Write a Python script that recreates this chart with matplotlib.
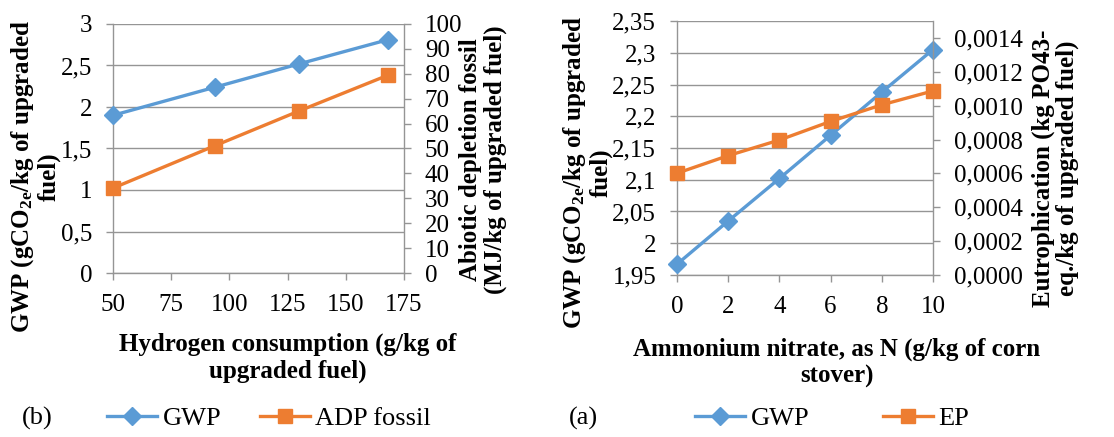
import matplotlib
matplotlib.use("Agg")
import matplotlib.pyplot as plt
from matplotlib.ticker import FuncFormatter, MultipleLocator

plt.rcParams['font.family'] = ['Liberation Serif', 'DejaVu Serif']
plt.rcParams['mathtext.fontset'] = 'custom'
plt.rcParams['mathtext.rm'] = 'Liberation Serif'
plt.rcParams['mathtext.bf'] = 'Liberation Serif:bold'
plt.rcParams['mathtext.it'] = 'Liberation Serif:italic:bold'

# ---- data: chart (b) ----
h2_consumption = [50, 94, 130, 168]
gwp_b = [1.90, 2.24, 2.52, 2.81]
adp_fossil = [34.1, 51.2, 65.1, 79.4]

# ---- data: chart (a) ----
ammonium_n = [0, 2, 4, 6, 8, 10]
gwp_a = [1.967, 2.035, 2.102, 2.170, 2.238, 2.305]
ep_a = [0.000601, 0.000705, 0.000797, 0.000907, 0.001005, 0.001087]

BLUE = '#5B9BD5'
ORANGE = '#ED7D31'
GRAY = '#959595'
TFS = 18     # tick labels
LFS = 18     # axis labels
GFS = 19     # legend
W, H = 1114, 437

fig = plt.figure(figsize=(W / 100, H / 100), dpi=100)

def comma(fmt):
    return FuncFormatter(lambda v, p: (fmt % v).replace('.', ','))

def style(ax):
    ax.spines['top'].set_visible(False)
    for s in ['left', 'right', 'bottom']:
        ax.spines[s].set_color(GRAY)
        ax.spines[s].set_linewidth(1.0)
    ax.tick_params(colors=GRAY, labelcolor='black', labelsize=TFS, length=5, width=1.0, pad=10)

def axes_px(l, r, t, b):
    return fig.add_axes([l / W, 1 - b / H, (r - l) / W, (b - t) / H])

def legend_item(handle, x_px, y_px):
    fig.legend(handles=[handle], loc='center left', bbox_to_anchor=(x_px / W, 1 - y_px / H),
               frameon=False, fontsize=GFS, handlelength=1.9, handletextpad=0.2,
               borderpad=0, borderaxespad=0)

LW = 2.4

# ---------- chart (b) ----------
ax1 = axes_px(113, 404, 24, 273)
ax1.set_xlim(50, 175)
ax1.set_ylim(0, 3)
ax1.xaxis.set_major_locator(MultipleLocator(25))
ax1.yaxis.set_major_locator(MultipleLocator(0.5))
ax1.yaxis.set_major_formatter(comma('%g'))
ax1.grid(axis='y', color=GRAY, linewidth=1.0)
ax1.set_axisbelow(True)
style(ax1)
ax1.spines['right'].set_visible(False)
l1, = ax1.plot(h2_consumption, gwp_b, color=BLUE, lw=LW, marker='D', ms=9.5,
               label='GWP', clip_on=False, zorder=3)
ax1b = ax1.twinx()
ax1b.set_ylim(0, 100)
ax1b.yaxis.set_major_locator(MultipleLocator(10))
style(ax1b)
ax1b.spines['left'].set_visible(False)
ax1b.spines['bottom'].set_visible(False)
l2, = ax1b.plot(h2_consumption, adp_fossil, color=ORANGE, lw=LW, marker='s', ms=9.5,
                label='ADP fossil', clip_on=False, zorder=3)

fig.text(35 / W, 1 - 177 / H, 'GWP (gCO$_{\\mathbf{2e}}$/kg of upgraded\nfuel)', rotation=90,
         ha='center', va='center', fontsize=LFS, fontweight='bold', linespacing=1.05, ma='center')
fig.text(483 / W, 1 - 160 / H, 'Abiotic depletion fossil\n(MJ/kg of upgraded fuel)', rotation=90,
         ha='center', va='center', fontsize=LFS, fontweight='bold', linespacing=1.05, ma='center')
fig.text(288 / W, 1 - 358 / H, 'Hydrogen consumption (g/kg of\nupgraded fuel)',
         ha='center', va='center', fontsize=LFS, fontweight='bold', linespacing=1.2, ma='center')
fig.text(37 / W, 1 - 418 / H, '(b)', ha='center', va='center', fontsize=GFS)
legend_item(l1, 107, 418)
legend_item(l2, 260, 418)

# ---------- chart (a) ----------
ax2 = axes_px(677, 933, 21, 275)
ax2.set_xlim(0, 10)
ax2.set_ylim(1.95, 2.35)
ax2.xaxis.set_major_locator(MultipleLocator(2))
ax2.yaxis.set_major_locator(MultipleLocator(0.05))
ax2.yaxis.set_major_formatter(comma('%g'))
ax2.grid(axis='y', color=GRAY, linewidth=1.0)
ax2.set_axisbelow(True)
style(ax2)
ax2.spines['right'].set_visible(False)
l3, = ax2.plot(ammonium_n, gwp_a, color=BLUE, lw=LW, marker='D', ms=9.5,
               label='GWP', clip_on=False, zorder=3)
ax2b = ax2.twinx()
ax2b.set_ylim(0, 0.0015)
ax2b.yaxis.set_major_locator(MultipleLocator(0.0002))
ax2b.yaxis.set_major_formatter(comma('%.4f'))
style(ax2b)
ax2b.spines['left'].set_visible(False)
ax2b.spines['bottom'].set_visible(False)
l4, = ax2b.plot(ammonium_n, ep_a, color=ORANGE, lw=LW, marker='s', ms=9.5,
                label='EP', clip_on=False, zorder=3)

fig.text(587 / W, 1 - 173 / H, 'GWP (gCO$_{\\mathbf{2e}}$/kg of upgraded\nfuel)', rotation=90,
         ha='center', va='center', fontsize=LFS, fontweight='bold', linespacing=1.05, ma='center')
fig.text(1055 / W, 1 - 168 / H, 'Eutrophication (kg PO43-\neq./kg of upgraded fuel)', rotation=90,
         ha='center', va='center', fontsize=LFS, fontweight='bold', linespacing=1.05, ma='center')
fig.text(837 / W, 1 - 363 / H, 'Ammonium nitrate, as N (g/kg of corn\nstover)',
         ha='center', va='center', fontsize=LFS, fontweight='bold', linespacing=1.2, ma='center')
fig.text(583 / W, 1 - 418 / H, '(a)', ha='center', va='center', fontsize=GFS)
legend_item(l3, 695, 418)
legend_item(l4, 883, 418)

fig.savefig('out.png', dpi=100)
